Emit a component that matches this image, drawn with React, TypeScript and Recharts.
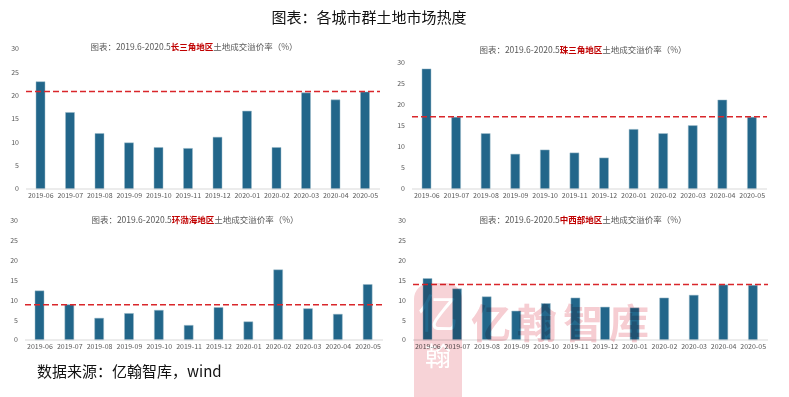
import React from 'react';
import { BarChart, Bar, XAxis, YAxis, ReferenceLine } from 'recharts';

const months = [
  '2019-06', '2019-07', '2019-08', '2019-09', '2019-10', '2019-11',
  '2019-12', '2020-01', '2020-02', '2020-03', '2020-04', '2020-05',
];

// 土地成交溢价率 (%)
const yangtzeValues = [23.0, 16.4, 11.9, 9.9, 8.9, 8.7, 11.1, 16.7, 8.9, 20.6, 19.1, 20.8];
const pearlValues = [28.6, 17.1, 13.2, 8.3, 9.3, 8.6, 7.4, 14.2, 13.2, 15.1, 21.2, 17.1];
const bohaiValues = [12.4, 8.9, 5.5, 6.7, 7.5, 3.7, 8.2, 4.6, 17.7, 7.9, 6.5, 14.0];
const midwestValues = [15.5, 12.9, 10.9, 7.3, 9.2, 10.6, 8.3, 8.1, 10.6, 11.3, 13.9, 13.8];

const regionNames = ['长三角地区', '珠三角地区', '环渤海地区', '中西部地区'];
const averageValues = [20.9, 17.2, 8.9, 14.0];
const yTicks = [0, 5, 10, 15, 20, 25, 30];

const seriesList = [yangtzeValues, pearlValues, bohaiValues, midwestValues];

const BAR = '#22668a';
const AVG = '#d9262b';
const TXT = '#595959';
const CJK = '"Noto Sans CJK SC", "Microsoft YaHei", sans-serif';

// layout of the four small charts on the page
const panels = [
  { left: 0, top: 0, width: 395, height: 205, yw: 26, mt: 49, mr: 15, mb: 2, titleX: 194, titleY: 40 },
  { left: 395, top: 0, width: 394, height: 205, yw: 17, mt: 63, mr: 22, mb: 2, titleX: 583, titleY: 43 },
  { left: 0, top: 200, width: 395, height: 165, yw: 25, mt: 21, mr: 12, mb: 11, titleX: 195, titleY: 213 },
  { left: 395, top: 200, width: 394, height: 165, yw: 18, mt: 21, mr: 21, mb: 11, titleX: 583, titleY: 213 },
];

function Panel({ idx }: { idx: number }) {
  const p = panels[idx];
  const data = months.map((m, i) => ({ month: m, value: seriesList[idx][i] }));
  return (
    <>
      <div
        style={{
          position: 'absolute',
          left: p.titleX - 110,
          top: p.titleY,
          width: 220,
          textAlign: 'center',
          fontFamily: CJK,
          fontSize: 8.5,
          lineHeight: '12px',
          color: TXT,
          whiteSpace: 'nowrap',
        }}
      >
        图表：2019.6-2020.5
        <span style={{ color: '#c00000', fontWeight: 700 }}>{regionNames[idx]}</span>
        土地成交溢价率（%）
      </div>
      <div style={{ position: 'absolute', left: p.left, top: p.top }}>
        <BarChart
          width={p.width}
          height={p.height}
          data={data}
          margin={{ top: p.mt, right: p.mr, bottom: p.mb, left: 0 }}
        >
          <XAxis
            dataKey="month"
            interval={0}
            height={14}
            tickLine={false}
            tickSize={0}
            tickMargin={4}
            axisLine={{ stroke: '#d9d9d9' }}
            tick={{ fontSize: 7, fill: TXT, fontFamily: CJK }}
          />
          <YAxis
            width={p.yw}
            domain={[0, 30]}
            ticks={yTicks}
            interval={0}
            axisLine={false}
            tickLine={false}
            tickSize={0}
            tickMargin={7}
            tick={{ fontSize: 7, fill: TXT, fontFamily: CJK }}
          />
          <Bar
            dataKey="value"
            fill={BAR}
            stroke="#9fbccb"
            strokeWidth={0.5}
            barSize={9}
            isAnimationActive={false}
          />
          <ReferenceLine
            y={averageValues[idx]}
            stroke={AVG}
            strokeWidth={1.6}
            strokeDasharray="6 3"
          />
        </BarChart>
      </div>
    </>
  );
}

export default function App() {
  return (
    <div
      style={{
        position: 'absolute',
        left: 0,
        top: 0,
        width: 789,
        height: 397,
        background: '#fff',
        overflow: 'hidden',
      }}
    >
      <div
        style={{
          position: 'absolute',
          left: 0,
          top: 6,
          width: 738,
          textAlign: 'center',
          fontFamily: CJK,
          fontSize: 15,
          lineHeight: '22px',
          color: '#111',
        }}
      >
        图表：各城市群土地市场热度
      </div>
      {[0, 1, 2, 3].map((i) => (
        <Panel key={i} idx={i} />
      ))}
      <div
        style={{
          position: 'absolute',
          left: 37,
          top: 360,
          fontFamily: CJK,
          fontSize: 15,
          lineHeight: '22px',
          color: '#111',
        }}
      >
        数据来源：亿翰智库，wind
      </div>
      {/* watermark */}
      <svg
        width={789}
        height={397}
        style={{ position: 'absolute', left: 0, top: 0, mixBlendMode: 'multiply', pointerEvents: 'none' }}
      >
        <rect x={414} y={283} width={48} height={130} rx={16} fill="#f7d3d7" />
        <text x={438} y={328} textAnchor="middle" fontSize={40} fill="#fff" fontFamily={CJK}>亿</text>
        <text x={438} y={366} textAnchor="middle" fontSize={26} fill="#fff" fontFamily={CJK}>翰</text>
        <text x={471} y={338} fontSize={40} letterSpacing={6} fill="#f6cdd2" fontFamily={CJK} fontWeight={700}>
          亿翰智库
        </text>
      </svg>
    </div>
  );
}
